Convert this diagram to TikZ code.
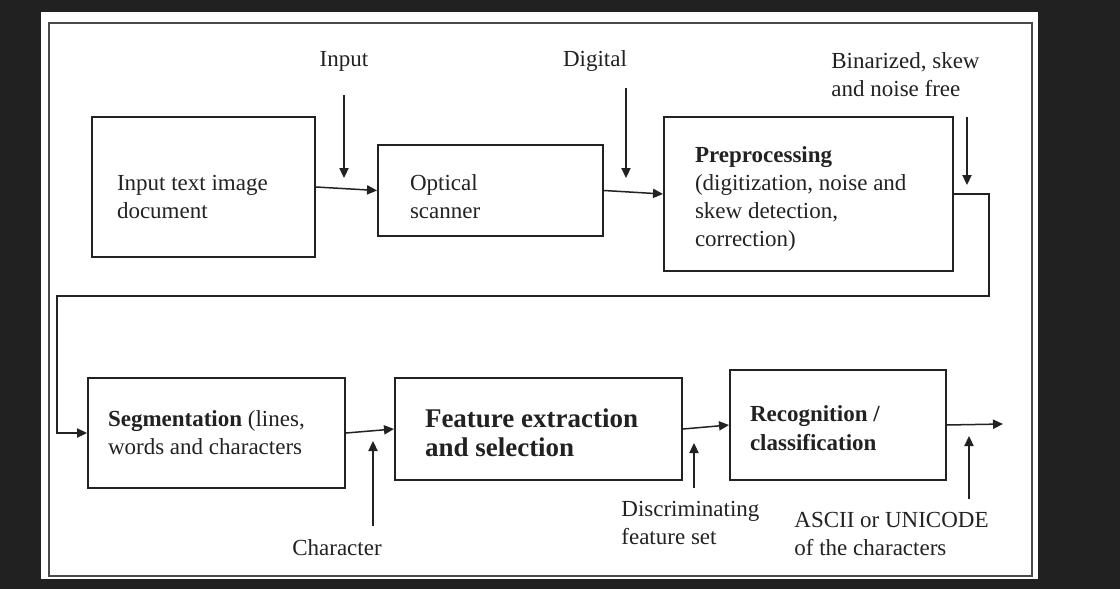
\documentclass[tikz,border=0pt]{standalone}
\usepackage{fontspec}
\setmainfont{Liberation Serif}
\usetikzlibrary{arrows.meta,positioning}
\usepackage{xcolor}
\definecolor{inkgray}{HTML}{222222}
\definecolor{framegray}{HTML}{4A4A4A}
\definecolor{backdark}{HTML}{212121}
% strut that pushes the first line of a box down
\newcommand{\toppad}[1]{\rule{0pt}{#1}}

\begin{document}
\begin{tikzpicture}[x=0.5pt, y=-0.5pt, font=\fontsize{11.5}{14}\selectfont, text=inkgray]
\tikzset{
    procbox/.style={rectangle, draw=inkgray, line width=1pt, align=flush left, inner sep=2pt},
    flowarrow/.style={->, >={Triangle[length=5pt,width=4.6pt]}, draw=inkgray, line width=0.75pt},
    sidelabel/.style={inner sep=1pt, align=flush left}
}
% dark surround, white sheet and outer frame
\useasboundingbox (0,0) rectangle (1120,589);
\fill[backdark] (0,0) rectangle (1120,589);
\fill[white] (41,12) rectangle (1038,579);
\draw[framegray, line width=0.9pt] (49,23) rectangle (1032,576);

% upper row
\node[procbox, minimum width=223*0.5pt, minimum height=140*0.5pt, text width=173*0.5pt] (inputdoc) at (203.5,187) {\toppad{18pt}Input text image\\document};
\node[procbox, minimum width=225*0.5pt, minimum height=91*0.5pt, text width=161*0.5pt] (scanner) at (490.5,190.5) {\toppad{14pt}Optical\\scanner};
\node[procbox, minimum width=289*0.5pt, minimum height=154*0.5pt, text width=227*0.5pt] (prep) at (808.5,194) {\toppad{13pt}\textbf{Preprocessing}\\(digitization, noise and\\skew detection,\\correction)};

% lower row
\node[procbox, minimum width=257*0.5pt, minimum height=110*0.5pt, text width=217*0.5pt] (seg) at (216.5,433) {\textbf{Segmentation} (lines,\\words and characters};
\node[procbox, minimum width=287*0.5pt, minimum height=102*0.5pt, text width=227*0.5pt, font=\fontsize{13.5}{14.5}\selectfont\bfseries] (feat) at (538.5,429) {\toppad{13.5pt}Feature extraction\\and selection};
\node[procbox, minimum width=216*0.5pt, minimum height=110*0.5pt, text width=176*0.5pt, font=\fontsize{11.5}{14.5}\selectfont\bfseries] (recog) at (838,425) {\toppad{11.5pt}Recognition /\\classification};

% side labels
\node[sidelabel] (lblinput) at (344,61) {Input};
\node[sidelabel] (lbldigital) at (595,61) {Digital};
\node[sidelabel, anchor=west] (lblbinar) at (829,75) {Binarized, skew\\and noise free};
\node[sidelabel] (lblchar) at (337,548) {Character};
\node[sidelabel, anchor=west] (lbldiscr) at (619,523) {Discriminating\\feature set};
\node[sidelabel, anchor=west] (lblascii) at (792,534) {ASCII or UNICODE\\of the characters};

\coordinate (inputtop) at (344,95);
\coordinate (inputtip) at (344,178);
\coordinate (digitaltop) at (626,88);
\coordinate (digitaltip) at (626,178);
\coordinate (binartop) at (967,117);
\coordinate (binartip) at (967,185);
\coordinate (charbottom) at (373,526);
\coordinate (chartip) at (373,441);
\coordinate (discrbottom) at (694,488);
\coordinate (discrtip) at (694,443);
\coordinate (asciibottom) at (969,499);
\coordinate (asciitip) at (969,436);
\coordinate (turn) at (57,296);
\coordinate (outend) at (1003,424);

\draw[flowarrow] (inputdoc.east) -- (scanner.west);
\draw[flowarrow] (scanner.east) -- (prep.west);
\draw[flowarrow] (prep.east) -- ++(35,0) |- (turn) |- (seg.west);
\draw[flowarrow] (seg.east) -- (feat.west);
\draw[flowarrow] (feat.east) -- (recog.west);
\draw[flowarrow] (recog.east) -- (outend);

\draw[flowarrow] (inputtop) -- (inputtip);
\draw[flowarrow] (digitaltop) -- (digitaltip);
\draw[flowarrow] (binartop) -- (binartip);
\draw[flowarrow] (charbottom) -- (chartip);
\draw[flowarrow] (discrbottom) -- (discrtip);
\draw[flowarrow] (asciibottom) -- (asciitip);

\end{tikzpicture}
\end{document}
